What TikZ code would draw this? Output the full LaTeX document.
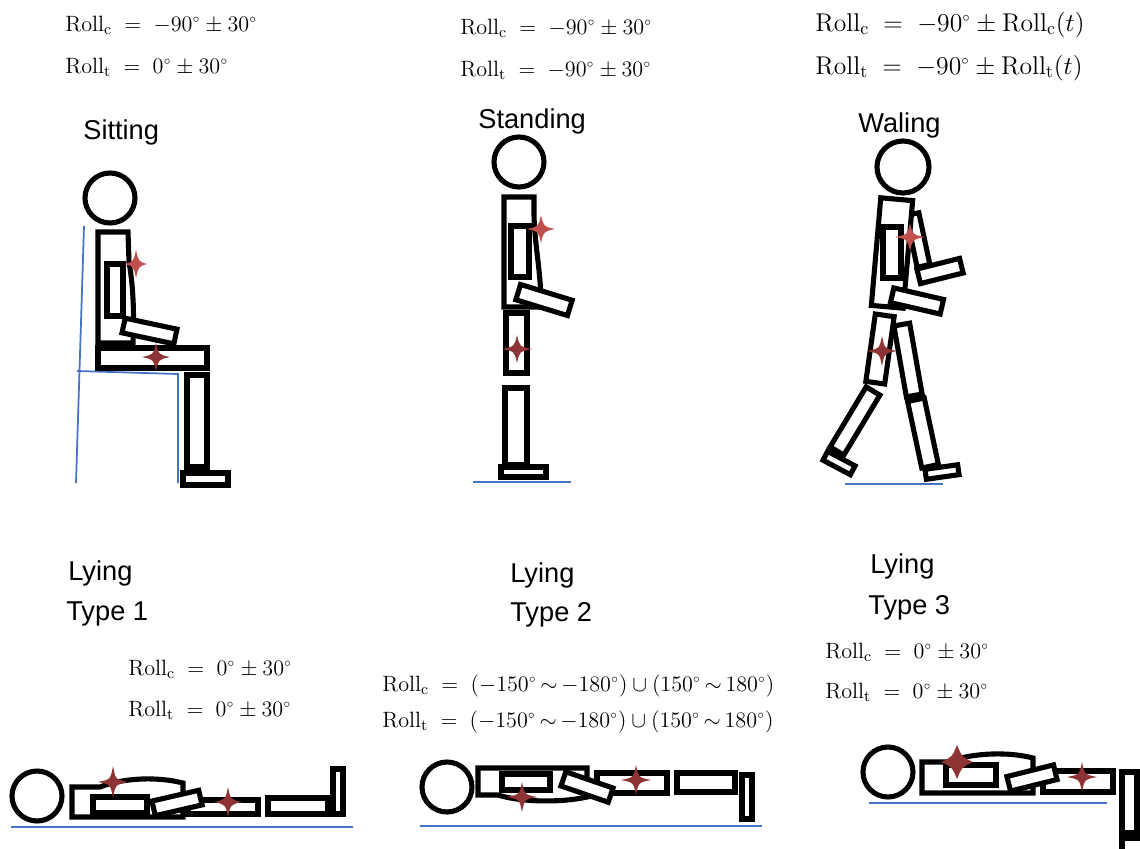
\RequirePackage{fix-cm}
\documentclass[tikz,border=0pt]{standalone}
\usepackage{fontspec}
\newfontfamily\labelfont{Liberation Sans}
\definecolor{groundblue}{HTML}{4472C4}
\definecolor{starred}{HTML}{C0504D}
\definecolor{stardark}{HTML}{8E3434}
\tikzset{
  body/.style={draw=black, line width=2.9pt, fill=white},
  ground/.style={draw=groundblue, line width=1pt},
  lbl/.style={font=\labelfont\fontsize{15.5}{18}\selectfont, anchor=base west, inner sep=0pt},
  eq/.style={font=\fontsize{12.6}{15}\selectfont, anchor=base west, inner sep=0pt},
  eqbig/.style={font=\fontsize{14.6}{17}\selectfont, anchor=base west, inner sep=0pt},
}
% rotated limb: centre x, centre y, width, height, angle
\newcommand\limb[5]{\draw[body, shift={(#1,#2)}, rotate=#5] (-#3/2,-#4/2) rectangle (#3/2,#4/2);}
% four-pointed sparkle: [arm thickness] centre x, centre y, half width, half height, colour
\newcommand\spark[6][2.5]{\fill[#6] (#2,#3-#5) .. controls (#2+#1,#3-#1) .. (#2+#4,#3) .. controls (#2+#1,#3+#1) .. (#2,#3+#5) .. controls (#2-#1,#3+#1) .. (#2-#4,#3) .. controls (#2-#1,#3-#1) .. (#2,#3-#5) -- cycle;}
\newcommand\rc{\mathrm{Roll}_{\mathrm{c}}}
\newcommand\rt{\mathrm{Roll}_{\mathrm{t}}}
\newcommand\dg{^{\scriptscriptstyle\circ}}
\newcommand\til{\,{\sim}\,}
\begin{document}
\begin{tikzpicture}[x=0.02cm, y=-0.02cm]
\useasboundingbox (0,0) rectangle (1140,849);
\clip (0,0) rectangle (1140,849);

% ---------- formulas ----------
\node[eq] (eqa1) at (65,31) {$\rc \;=\; -90\dg \pm 30\dg$};
\node[eq] (eqa2) at (65,73) {$\rt \;=\; 0\dg \pm 30\dg$};
\node[eq] (eqb1) at (460,34) {$\rc \;=\; -90\dg \pm 30\dg$};
\node[eq] (eqb2) at (460,76) {$\rt \;=\; -90\dg \pm 30\dg$};
\node[eqbig] (eqc1) at (815,31) {$\rc \;=\; -90\dg \pm \rc(t)$};
\node[eqbig] (eqc2) at (815,74) {$\rt \;=\; -90\dg \pm \rt(t)$};
\node[eq] (eqd1) at (128,675) {$\rc \;=\; 0\dg \pm 30\dg$};
\node[eq] (eqd2) at (128,716) {$\rt \;=\; 0\dg \pm 30\dg$};
\node[eq] (eqe1) at (382,691) {$\rc \;=\; (-150\dg\til{-180\dg}) \cup (150\dg\til180\dg)$};
\node[eq] (eqe2) at (382,727) {$\rt \;=\; (-150\dg\til{-180\dg}) \cup (150\dg\til180\dg)$};
\node[eq] (eqf1) at (825,658) {$\rc \;=\; 0\dg \pm 30\dg$};
\node[eq] (eqf2) at (825,698) {$\rt \;=\; 0\dg \pm 30\dg$};

% ---------- labels ----------
\node[lbl] (sitting) at (83,139) {Sitting};
\node[lbl] (standing) at (478,128) {Standing};
\node[lbl] (walking) at (858,132) {Waling};
\node[lbl] (lyinga) at (68,580) {Lying};
\node[lbl] (typea) at (66,620) {Type 1};
\node[lbl] (lyingb) at (510,582) {Lying};
\node[lbl] (typeb) at (510,621) {Type 2};
\node[lbl] (lyingc) at (870,573) {Lying};
\node[lbl] (typec) at (868,614) {Type 3};

% ---------- sitting ----------
\draw[ground] (84,226) -- (76,483);
\draw[ground] (77,371) -- (178,374) -- (178,483);
\draw[body] (110,198) circle[radius=25];
\draw[body] (98,232) -- (128,232) -- (129,262) .. controls (134,290) and (134,320) .. (133,343) -- (98,343) -- cycle;
\draw[body] (107,264) rectangle (123,316);
\limb{149.5}{331}{53}{15}{-12}
\draw[body] (98,348) rectangle (207,368);
\draw[body] (187,375) rectangle (207,467);
\draw[body] (183,473) rectangle (228,485);
\spark{136}{264}{11}{14}{starred}
\spark{156}{357}{14}{14}{stardark}

% ---------- standing ----------
\draw[ground] (473,482) -- (571,482);
\draw[body] (519,162) circle[radius=25];
\draw[body] (504,197) -- (534,197) -- (534,215) .. controls (535,250) and (541,270) .. (541,307) -- (504,307) -- cycle;
\draw[body] (511,226) rectangle (529,277);
\limb{544}{300}{54}{16}{-17}
\draw[body] (506,313) rectangle (527,373);
\draw[body] (505,388) rectangle (527,465);
\draw[body] (501,467) rectangle (546,477);
\spark{541}{229}{14}{14}{starred}
\spark{517}{349}{15}{14}{stardark}

% ---------- walking ----------
\draw[ground] (845,484) -- (943,484);
\draw[body] (903,167) circle[radius=26];
\limb{918}{240}{13}{53}{12}
\limb{940}{271}{44}{15}{14}
\limb{892}{253}{32}{108}{-5}
\draw[body] (883,227) rectangle (901,278);
\limb{917}{301}{51}{15}{-13}
\limb{908}{360}{16}{72}{10}
\limb{923}{433}{17}{68}{12}
\limb{942}{472}{33}{10}{8}
\limb{880}{349}{19}{68}{-8}
\limb{855}{421}{16}{70}{-31}
\limb{839}{463}{31}{10}{-28}
\spark{910}{237}{15}{14}{starred}
\spark{882}{351}{15}{15}{stardark}

% ---------- lying, type 1 ----------
\draw[ground] (11,827) -- (353,827);
\draw[body] (37,796) circle[radius=25];
\draw[body] (72,817) -- (72,787) -- (100,787) .. controls (125,777) and (160,777) .. (183,783) -- (183,817) -- cycle;
\draw[body] (93,797) rectangle (147,813);
\draw[body] (188,800) rectangle (258,814);
\limb{177}{803}{48}{15}{13}
\draw[body] (268,798) rectangle (328,814);
\draw[body] (333,769) rectangle (343,814);
\spark{113}{782}{15}{16}{stardark}
\spark{228}{802}{14}{15}{stardark}

% ---------- lying, type 2 ----------
\draw[ground] (420,826) -- (762,826);
\draw[body] (447,787) circle[radius=25];
\draw[body] (478,768) -- (587,768) -- (587,797) .. controls (560,803) and (520,802) .. (498,795) -- (478,795) -- cycle;
\draw[body] (502,774) rectangle (550,790);
\draw[body] (597,773) rectangle (667,793);
\limb{587}{787}{50}{15}{-19}
\draw[body] (677,773) rectangle (735,792);
\draw[body] (742,775) rectangle (752,819);
\spark{522}{797}{15}{15}{stardark}
\spark{636}{780}{15}{15}{stardark}

% ---------- lying, type 3 ----------
\draw[ground] (869,803) -- (1107,803);
\draw[body] (888,772) circle[radius=25];
\draw[body] (922,793) -- (922,762) -- (947,762) .. controls (975,752) and (1010,752) .. (1033,758) -- (1033,793) -- cycle;
\draw[body] (946,765) rectangle (996,785);
\draw[body] (1043,771) rectangle (1113,792);
\limb{1032}{778}{48}{15}{14}
\draw[body] (1122,772) rectangle (1137,833);
\draw[body] (1122,838) rectangle (1150,870);
\spark[5]{957}{762}{16}{17}{stardark}
\spark{1082}{777}{15}{15}{stardark}
\end{tikzpicture}
\end{document}
